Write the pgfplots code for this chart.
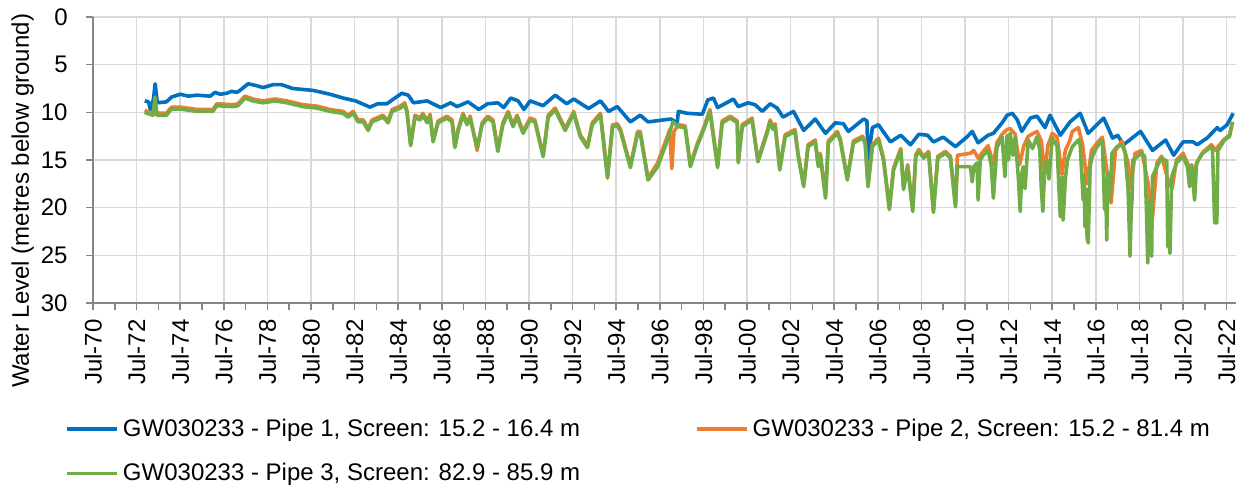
\documentclass[border=0pt]{standalone}
\usepackage{pgfplots}
\pgfplotsset{compat=1.18}
\usepackage{fontspec}
\setmainfont{Liberation Sans}
\definecolor{pblue}{HTML}{0070C0}
\definecolor{porange}{HTML}{ED7D31}
\definecolor{pgreen}{HTML}{70AD47}
\definecolor{gridc}{HTML}{D9D9D9}
\definecolor{axc}{HTML}{868686}
\begin{document}
\begin{tikzpicture}
\useasboundingbox (-46.5pt,-92.5pt) rectangle (574.5pt,151.5pt);
\begin{axis}[
  at={(0,0)}, anchor=south west,
  scale only axis, width=571.5pt, height=143pt,
  font=\fontsize{12}{14}\selectfont,
  xmin=1970.5, xmax=2022.93,
  ymin=0, ymax=30, y dir=reverse,
  ytick={0,5,10,15,20,25,30},
  xtick={1970.5,1972.5,1974.5,1976.5,1978.5,1980.5,1982.5,1984.5,1986.5,1988.5,1990.5,1992.5,1994.5,1996.5,1998.5,2000.5,2002.5,2004.5,2006.5,2008.5,2010.5,2012.5,2014.5,2016.5,2018.5,2020.5,2022.5},
  xticklabels={Jul-70,Jul-72,Jul-74,Jul-76,Jul-78,Jul-80,Jul-82,Jul-84,Jul-86,Jul-88,Jul-90,Jul-92,Jul-94,Jul-96,Jul-98,Jul-00,Jul-02,Jul-04,Jul-06,Jul-08,Jul-10,Jul-12,Jul-14,Jul-16,Jul-18,Jul-20,Jul-22},
  minor xtick={1971.5,1973.5,1975.5,1977.5,1979.5,1981.5,1983.5,1985.5,1987.5,1989.5,1991.5,1993.5,1995.5,1997.5,1999.5,2001.5,2003.5,2005.5,2007.5,2009.5,2011.5,2013.5,2015.5,2017.5,2019.5,2021.5},
  xticklabel style={rotate=90, anchor=east, inner sep=0pt, xshift=-4.5pt},
  yticklabel style={inner sep=0pt, xshift=-9pt},
  /pgf/number format/assume math mode=true,
  axis x line*=bottom, axis y line*=left,
  axis line style={axc, line width=1pt},
  tick style={axc, line width=0.8pt},
  tick align=outside, major tick length=3.5pt, minor tick length=3.5pt,
  xmajorgrids, ymajorgrids,
  major grid style={gridc, line width=0.8pt},
  ylabel={Water Level (metres below ground)},
  every axis y label/.append style={at={(ticklabel cs:0.357)}},
  legend style={at={(axis description cs:-0.0245,-0.39)}, anchor=north west, draw=none, fill=none, inner sep=0pt,
    legend columns=2, row sep=8pt,
    /tikz/every even column/.append style={column sep=55.5pt}},
  legend cell align=left,
  legend image code/.code={\draw[#1] (0pt,0pt) -- (25pt,0pt);},
]
\addplot[pblue, line width=1.8pt, line join=round] table {
1972.87 8.8
1973.05 8.9
1973.15 9.9
1973.28 8.5
1973.35 7.0
1973.45 9.0
1973.87 8.9
1974.1 8.4
1974.5 8.1
1974.87 8.3
1975.27 8.2
1975.88 8.3
1976.1 7.9
1976.33 8.1
1976.63 8.0
1976.86 7.8
1977.1 7.9
1977.24 7.7
1977.62 7.0
1978.0 7.2
1978.3 7.4
1978.76 7.1
1979.15 7.1
1979.67 7.5
1980.13 7.6
1980.6 7.7
1981.37 8.1
1981.97 8.5
1982.55 8.8
1982.85 9.1
1983.2 9.45
1983.57 9.1
1983.98 9.1
1984.35 8.5
1984.67 8.0
1984.96 8.2
1985.2 9.0
1985.83 8.8
1986.45 9.5
1986.9 9.0
1987.2 9.4
1987.7 8.9
1988.2 9.7
1988.6 9.1
1989.07 9.0
1989.34 9.5
1989.66 8.5
1990.0 8.8
1990.27 9.7
1990.55 8.8
1991.15 9.3
1991.7 8.2
1992.23 9.1
1992.55 8.6
1993.23 9.6
1993.78 8.8
1994.15 9.9
1994.55 9.4
1995.15 11.0
1995.6 10.3
1995.96 11.0
1997.0 10.7
1997.3 11.1
1997.35 9.9
1997.76 10.1
1998.45 10.2
1998.7 8.7
1998.96 8.5
1999.15 9.5
1999.64 8.9
1999.87 8.6
2000.1 9.4
2000.55 9.0
2000.87 9.2
2001.2 9.9
2001.56 9.1
2001.88 9.55
2002.15 10.5
2002.63 9.9
2003.1 11.9
2003.63 10.7
2004.1 12.2
2004.55 11.1
2004.92 11.2
2005.15 12.0
2005.85 10.7
2006.0 10.9
2006.05 15.0
2006.25 11.6
2006.53 11.3
2007.08 13.1
2007.55 12.4
2008.0 13.4
2008.38 12.3
2008.78 12.4
2009.05 13.1
2009.5 12.6
2010.06 13.6
2010.6 12.55
2010.83 12.0
2011.1 13.2
2011.56 12.4
2011.8 12.2
2012.2 11.1
2012.43 10.3
2012.67 10.1
2012.9 10.8
2013.1 12.0
2013.5 10.6
2013.8 10.4
2014.17 11.6
2014.4 10.3
2014.87 12.4
2015.32 11.0
2015.78 10.1
2016.15 12.2
2016.86 10.6
2017.27 12.7
2017.5 12.4
2017.77 13.4
2018.55 12.0
2019.1 14.0
2019.7 12.9
2020.07 14.5
2020.5 13.1
2020.96 13.1
2021.15 13.4
2021.6 12.7
2022.07 11.6
2022.2 11.9
2022.52 11.3
2022.8 10.1
};
\addlegendentry{GW030233 - Pipe 1, Screen: 15.2 - 16.4 m}
\addplot[porange, line width=1.8pt, line join=round] table {
1972.87 9.8
1973.1 10.0
1973.25 10.1
1973.35 9.0
1973.43 10.1
1973.87 10.1
1974.1 9.45
1974.5 9.45
1975.27 9.7
1976.0 9.7
1976.18 9.1
1976.93 9.2
1977.15 9.1
1977.47 8.3
1977.83 8.6
1978.3 8.8
1978.85 8.6
1979.4 8.8
1980.13 9.2
1980.77 9.35
1981.37 9.7
1981.97 9.9
1982.2 10.3
1982.43 9.9
1982.66 10.8
1982.9 10.8
1983.12 11.7
1983.3 10.8
1983.8 10.3
1984.04 10.9
1984.22 9.7
1984.6 9.35
1984.8 9.0
1984.9 9.8
1985.07 13.3
1985.27 10.3
1985.5 10.6
1985.63 10.1
1985.83 10.9
1985.96 10.2
1986.1 12.9
1986.33 10.9
1986.74 10.4
1986.97 10.8
1987.1 13.5
1987.24 11.8
1987.47 10.1
1987.66 11.1
1987.8 10.4
1988.12 14.0
1988.35 11.1
1988.6 10.4
1988.85 10.8
1989.07 13.9
1989.3 11.1
1989.54 9.9
1989.77 11.3
1989.95 10.3
1990.23 12.0
1990.55 10.6
1990.77 10.8
1991.15 14.5
1991.38 10.3
1991.7 9.55
1992.16 11.7
1992.55 9.9
1992.85 12.35
1993.18 13.5
1993.4 11.1
1993.78 10.1
1994.1 16.7
1994.33 11.3
1994.55 11.2
1994.7 11.8
1995.15 15.6
1995.48 12.0
1995.6 12.0
1995.96 16.9
1996.4 15.3
1996.85 12.5
1996.95 11.8
1997.05 15.9
1997.15 12.0
1997.35 11.3
1997.66 11.4
1997.9 15.5
1998.2 13.4
1998.5 11.7
1998.8 9.7
1999.15 15.6
1999.36 10.9
1999.73 10.4
2000.05 10.9
2000.1 15.1
2000.28 11.3
2000.73 10.6
2001.0 15.0
2001.42 12.0
2001.56 10.8
2001.7 11.6
2001.79 11.2
2002.0 15.85
2002.25 12.35
2002.7 11.8
2002.85 14.45
2003.1 17.6
2003.3 13.4
2003.63 12.9
2003.77 15.5
2003.86 14.3
2004.1 18.8
2004.23 13.0
2004.64 12.0
2004.78 12.8
2005.1 16.9
2005.38 13.0
2005.8 12.5
2005.92 13.1
2006.05 17.6
2006.25 13.4
2006.53 12.7
2006.76 14.8
2007.03 20.0
2007.22 15.85
2007.55 13.8
2007.68 17.9
2007.87 15.5
2008.1 20.2
2008.24 14.45
2008.38 13.9
2008.6 14.6
2008.83 14.1
2009.05 20.3
2009.25 14.6
2009.6 14.1
2009.83 14.6
2010.06 19.7
2010.15 14.5
2010.75 14.3
2010.9 14.0
2011.1 14.8
2011.3 14.2
2011.56 13.5
2011.8 15.5
2011.96 13.2
2012.2 12.3
2012.43 11.8
2012.57 11.7
2012.8 12.3
2013.0 15.5
2013.2 13.5
2013.4 12.5
2013.8 12.0
2014.0 13.0
2014.15 16.5
2014.3 13.5
2014.5 12.2
2014.72 12.6
2014.95 16.5
2015.1 14.0
2015.3 13.0
2015.42 12.0
2015.7 11.6
2015.9 13.5
2016.1 17.5
2016.3 14.0
2016.56 13.2
2016.8 12.6
2017.0 16.0
2017.2 19.5
2017.4 14.0
2017.7 13.0
2018.0 15.5
2018.1 18.0
2018.3 14.3
2018.6 14.0
2018.9 17.5
2019.1 21.0
2019.3 15.3
2019.52 14.6
2019.8 17.0
2020.0 18.0
2020.2 15.0
2020.5 14.3
2020.8 15.8
2021.0 16.2
2021.2 15.0
2021.4 14.2
2021.8 13.4
2022.0 14.0
2022.1 13.6
2022.4 12.8
2022.63 12.4
2022.77 11.0
};
\addlegendentry{GW030233 - Pipe 2, Screen: 15.2 - 81.4 m}
\addplot[pgreen, line width=1.8pt, line join=round] table {
1972.87 10.0
1973.1 10.2
1973.25 10.3
1973.35 8.4
1973.43 10.3
1973.87 10.3
1974.1 9.65
1974.5 9.65
1975.27 9.9
1976.0 9.9
1976.18 9.3
1976.93 9.4
1977.15 9.3
1977.47 8.5
1977.83 8.8
1978.3 9.0
1978.85 8.8
1979.4 9.0
1980.13 9.4
1980.77 9.55
1981.37 9.9
1981.97 10.1
1982.2 10.5
1982.43 10.1
1982.66 11.0
1982.9 11.0
1983.12 11.9
1983.3 11.0
1983.8 10.5
1984.04 11.1
1984.22 9.9
1984.6 9.55
1984.8 9.2
1984.9 10.0
1985.07 13.5
1985.27 10.5
1985.5 10.8
1985.63 10.3
1985.83 11.1
1985.96 10.4
1986.1 13.1
1986.33 11.1
1986.74 10.6
1986.97 11.0
1987.1 13.7
1987.24 12.0
1987.47 10.3
1987.66 11.3
1987.8 10.6
1988.12 13.7
1988.35 11.3
1988.6 10.6
1988.85 11.0
1989.07 14.1
1989.3 11.3
1989.54 10.1
1989.77 11.5
1989.95 10.5
1990.23 12.2
1990.55 10.8
1990.77 11.0
1991.15 14.65
1991.38 10.5
1991.7 9.75
1992.16 11.9
1992.55 10.1
1992.85 12.55
1993.18 13.7
1993.4 11.3
1993.78 10.3
1994.1 16.9
1994.33 11.5
1994.55 11.4
1994.7 12.0
1995.15 15.8
1995.48 12.2
1995.6 12.2
1995.96 17.1
1996.4 15.7
1996.85 12.9
1997.1 11.0
1997.35 11.5
1997.66 11.6
1997.9 15.7
1998.2 13.6
1998.5 11.9
1998.8 9.9
1999.15 15.8
1999.36 11.1
1999.73 10.6
2000.05 11.1
2000.1 15.3
2000.28 11.5
2000.73 10.8
2001.0 15.2
2001.42 12.2
2001.56 11.0
2001.7 11.8
2001.79 11.4
2002.0 16.05
2002.25 12.55
2002.7 12.0
2002.85 14.65
2003.1 17.8
2003.3 13.6
2003.63 13.1
2003.77 15.7
2003.86 14.5
2004.1 19.0
2004.23 13.2
2004.64 12.2
2004.78 13.0
2005.1 17.1
2005.38 13.2
2005.8 12.7
2005.92 13.3
2006.05 17.8
2006.25 13.6
2006.53 12.9
2006.76 15.0
2007.03 20.2
2007.22 16.05
2007.55 14.0
2007.68 18.1
2007.87 15.7
2008.1 20.4
2008.24 14.65
2008.38 14.1
2008.6 14.8
2008.83 14.3
2009.05 20.5
2009.25 14.8
2009.6 14.3
2009.83 14.8
2010.06 19.9
2010.15 15.7
2010.75 15.7
2010.83 17.3
2010.9 15.7
2011.05 15.3
2011.1 19.2
2011.2 15.0
2011.33 14.5
2011.56 14.0
2011.7 15.5
2011.8 19.0
2011.96 13.7
2012.2 12.55
2012.33 16.75
2012.43 12.4
2012.5 15.0
2012.57 12.2
2012.7 14.5
2012.8 12.6
2012.95 17.0
2013.03 20.4
2013.1 16.5
2013.17 15.7
2013.25 18.0
2013.4 12.9
2013.6 13.8
2013.8 12.55
2013.93 14.0
2014.0 18.0
2014.07 20.4
2014.15 16.0
2014.26 15.0
2014.35 17.0
2014.5 12.7
2014.72 13.5
2014.8 17.5
2014.87 20.95
2014.96 16.75
2015.0 21.3
2015.1 17.0
2015.2 15.0
2015.42 13.6
2015.7 12.9
2015.78 13.4
2015.92 19.2
2015.96 16.5
2016.0 22.0
2016.05 18.0
2016.1 23.2
2016.15 23.7
2016.24 15.7
2016.33 14.65
2016.56 13.6
2016.8 12.9
2016.9 20.2
2016.95 17.0
2017.0 23.4
2017.05 16.4
2017.15 19.2
2017.24 14.3
2017.47 13.6
2017.7 13.4
2017.84 14.2
2017.98 18.1
2018.03 22.0
2018.07 25.1
2018.12 20.5
2018.16 19.2
2018.2 15.0
2018.4 14.65
2018.6 14.3
2018.74 14.6
2018.82 20.0
2018.88 25.8
2018.97 19.2
2019.02 23.5
2019.06 25.1
2019.1 16.75
2019.3 15.7
2019.52 14.8
2019.75 15.1
2019.8 24.1
2019.85 20.0
2019.9 24.8
2019.98 16.75
2020.2 15.3
2020.5 14.65
2020.7 15.7
2020.8 17.8
2020.9 15.5
2021.03 19.2
2021.12 15.3
2021.4 14.3
2021.8 13.6
2021.85 13.8
2021.95 21.6
2022.05 21.6
2022.1 14.0
2022.4 12.9
2022.63 12.55
2022.77 11.0
};
\addlegendentry{GW030233 - Pipe 3, Screen: 82.9 - 85.9 m}
\end{axis}
\end{tikzpicture}
\end{document}
